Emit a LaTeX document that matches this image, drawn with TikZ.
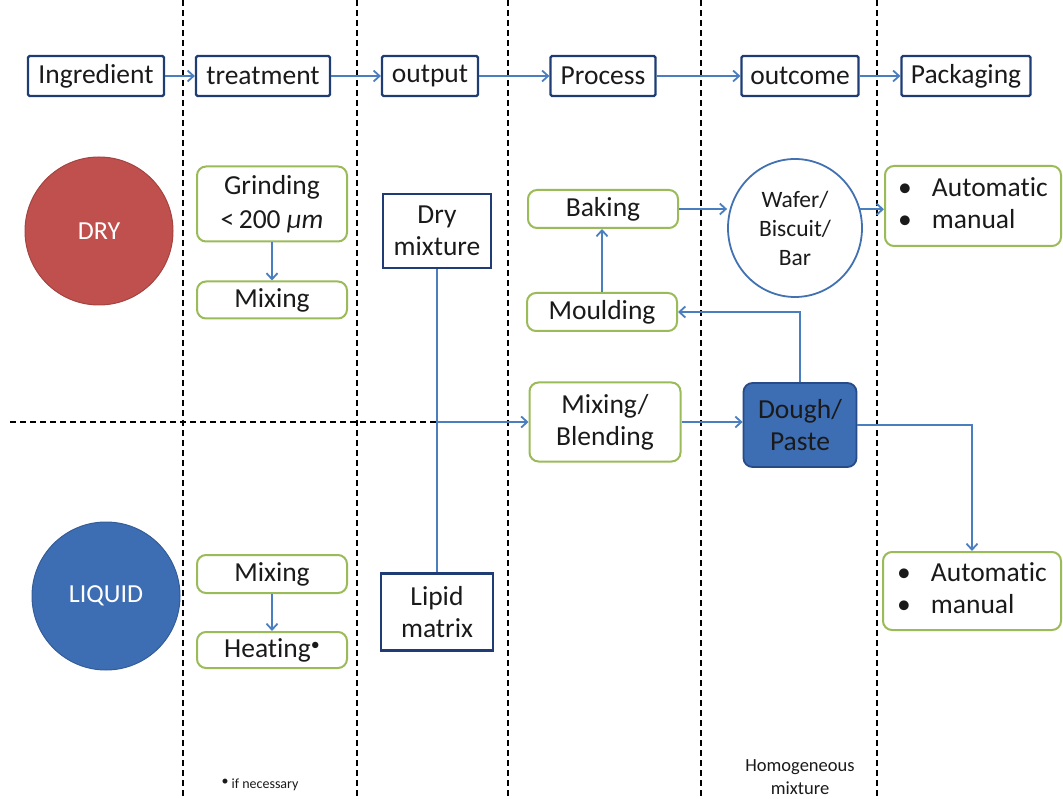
\documentclass[tikz,border=0pt]{standalone}
\usepackage{fontspec}
\setmainfont{Carlito}[Ligatures=NoCommon]
\usetikzlibrary{arrows.meta,shapes.geometric}
\definecolor{navy}{HTML}{1F3C74}
\definecolor{lblue}{HTML}{4A7EBF}
\definecolor{lgreen}{HTML}{9BBB59}
\definecolor{dred}{HTML}{C0504D}
\definecolor{dblue}{HTML}{3D6DB3}
\definecolor{txt}{HTML}{1A1A1A}
\begin{document}
\begin{tikzpicture}[x=1pt,y=-1pt,
  every node/.style={inner sep=0pt, align=center, text=txt, font=\fontsize{27.5}{32}\selectfont},
  topbox/.style={draw=navy, line width=2.2pt, minimum height=40pt, rounded corners=1.5pt},
  gbox/.style={draw=lgreen, line width=2pt, rounded corners=9pt},
  nbox/.style={draw=navy, line width=2.2pt},
  ball/.style={circle, line width=1pt, minimum size=148pt, text=white, font=\fontsize{26}{30}\selectfont},
  conn/.style={draw=lblue, line width=1.8pt},
  arr/.style={conn, -{Straight Barb[length=6pt,width=11pt,line width=1.8pt]}},
  sep/.style={line width=2pt, dash pattern=on 6pt off 4pt}
]
\useasboundingbox (0,0) rectangle (1063,799);
% column separators
\foreach \x in {183,357,508,701,877} \draw[sep] (\x,0) -- (\x,799);

% header row
\node[topbox, minimum width=136pt] (ing)  at (96,76)  {Ingredient};
\node[topbox, minimum width=134pt] (trt)  at (263,76) {treatment};
\node[topbox, minimum width=96pt]  (out)  at (430,76) {output};
\node[topbox, minimum width=105pt] (proc) at (603,76) {Process};
\node[topbox, minimum width=117pt] (outc) at (800,76) {outcome};
\node[topbox, minimum width=129pt] (pack) at (966,76) {Packaging};

% circles
\node[ball, fill=dred, draw=dred!85!black]   (dry) at (99,231)  {DRY};
\node[ball, fill=dblue, draw=dblue!85!black] (liq) at (106,596) {LIQUID};

% dry branch
\node[gbox, minimum width=150pt, minimum height=75pt] (grind) at (272,204) {Grinding\\[2pt]{<}\,200 \textit{μm}};
\node[gbox, minimum width=150pt, minimum height=37pt] (mixd) at (272,300) {Mixing};
\node[nbox, minimum width=108pt, minimum height=74pt] (drym) at (437,231) {Dry\\mixture};

% liquid branch
\node[gbox, minimum width=150pt, minimum height=38pt] (mixl) at (272,574) {Mixing};
\node[gbox, minimum width=150pt, minimum height=36pt] (heat) at (272,650) {Heating\raisebox{7pt}{\fontsize{18}{18}\selectfont •}};
\node[nbox, minimum width=112pt, minimum height=77pt] (lipid) at (437,612) {Lipid\\matrix};

% process
\node[gbox, minimum width=150pt, minimum height=38pt] (bake)  at (603,209) {Baking};
\node[gbox, minimum width=150pt, minimum height=38pt] (mould) at (602,312) {Moulding};
\node[gbox, minimum width=151pt, minimum height=79pt] (mixb)  at (605,422) {Mixing/\\Blending};

% outcome
\node[ellipse, draw=lblue!80!navy, line width=1.8pt, minimum width=134pt, minimum height=138pt,
      font=\fontsize{23.5}{29}\selectfont] (waf) at (795,228) {Wafer/\\Biscuit/\\Bar};
\node[draw=navy!70!dblue, fill=dblue, line width=1.8pt, rounded corners=9pt,
      minimum width=113pt, minimum height=84pt] (dough) at (800,425) {Dough/\\Paste};

% packaging
\node[gbox, minimum width=176pt, minimum height=80pt] (auto1) at (973,206)
  {\begin{tabular}{@{}l@{\hspace{20pt}}l@{}}•&Automatic\\•&manual\end{tabular}};
\node[gbox, minimum width=178pt, minimum height=78pt] (auto2) at (972,591)
  {\begin{tabular}{@{}l@{\hspace{20pt}}l@{}}•&Automatic\\•&manual\end{tabular}};

% notes
\node[font=\fontsize{14}{17}\selectfont] (fn) at (260,785) {\raisebox{3pt}{•} if necessary};
\node[font=\fontsize{18.5}{23}\selectfont] (hm) at (800,777) {Homogeneous\\mixture};

% header arrows
\draw[arr] (ing.east) -- (trt.west);
\draw[arr] (trt.east) -- (out.west);
\draw[arr] (out.east) -- (proc.west);
\draw[arr] (proc.east) -- (outc.west);
\draw[arr] (outc.east) -- (pack.west);

% flow
\draw[arr] (grind) -- (mixd);
\draw[arr] (mixl) -- (heat);
\draw[conn] (drym) -- (lipid);
\coordinate (hs) at (10,422);
\coordinate (j) at (drym.south |- mixb.west);
\draw[sep] (hs) -- (j);
\draw[arr] (j) -- (mixb.west);
\draw[arr] (mixb.east) -- (mixb.east -| dough.west);
\draw[arr] (dough.north) |- (mould.east);
\draw[arr] (mould.north) -- (mould.north |- bake.south);
\draw[arr] (bake.east) -- (bake.east -| waf.west);
\draw[arr] (waf.16) -- (waf.16 -| auto1.west);
\draw[arr] (dough.east) -| (auto2.north);
\end{tikzpicture}
\end{document}
